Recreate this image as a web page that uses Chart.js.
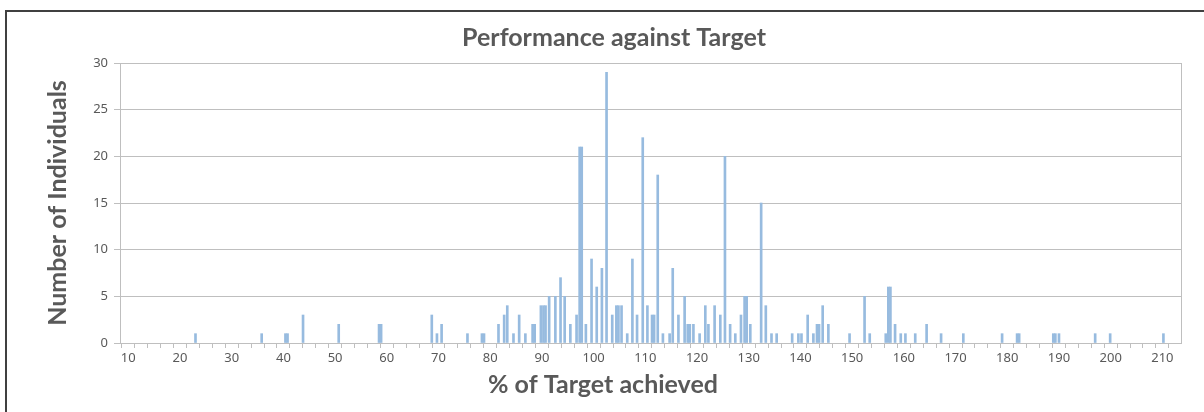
<!DOCTYPE html>
<html>
<head>
<meta charset="utf-8">
<script src="https://cdn.jsdelivr.net/npm/chart.js@4.4.0/dist/chart.umd.min.js"></script>
<style>
  html, body { margin:0; padding:0; background:#fff; }
  #wrap { position:relative; width:1204px; height:412px; overflow:hidden; }
  #frame { position:absolute; left:5px; top:10px; width:1220px; height:430px;
           border-left:2px solid #404040; border-top:2px solid #404040; }
  canvas { position:absolute; left:0; top:0; }
</style>
</head>
<body>
<div id="wrap">
  <div id="frame"></div>
  <canvas id="chart" width="1204" height="412"></canvas>
</div>
<script>
// % of target achieved (x) and number of individuals (y)
const pctAchieved = [
  23, 35.8, 40.4, 40.8, 43.8, 50.7, 58.5, 58.9,
  68.7, 69.7, 70.6, 75.6, 78.4, 78.8,
  81.6, 82.7, 83.3, 84.5, 85.6, 86.8, 88.2, 88.6, 89.8,
  90.3, 90.7, 91.4, 92.6, 93.6, 94.4, 95.5, 96.7, 97.3, 97.7, 98.5, 99.6,
  100.6, 101.6, 102.5, 103.6, 104.4, 104.8, 105.4, 106.5, 107.5, 108.4, 109.5,
  110.4, 111.3, 111.7, 112.4, 113.4, 114.7, 115.3, 116.4, 117.6, 118.2, 118.6, 119.3,
  120.5, 121.6, 122.2, 123.4, 124.5, 125.4, 126.4, 127.4, 128.5, 129.2, 129.6,
  130.3, 132.4, 133.3, 134.4, 135.4, 138.4, 139.6,
  140.2, 141.4, 142.5, 143.2, 143.6, 144.3, 145.4, 149.5,
  152.4, 153.4, 156.5, 157.0, 157.4, 158.3, 159.4,
  160.3, 162.2, 164.4, 167.2, 171.5, 179.0, 181.9, 182.3,
  188.9, 189.3, 190.0, 197.0, 199.9, 210.2
];
const individuals = [
  1, 1, 1, 1, 3, 2, 2, 2,
  3, 1, 2, 1, 1, 1,
  2, 3, 4, 1, 3, 1, 2, 2, 4,
  4, 4, 5, 5, 7, 5, 2, 3, 21, 21, 2, 9,
  6, 8, 29, 3, 4, 4, 4, 1, 9, 3, 22,
  4, 3, 3, 18, 1, 1, 8, 3, 5, 2, 2, 2,
  1, 4, 2, 4, 3, 20, 2, 1, 3, 5, 5,
  2, 15, 4, 1, 1, 1, 1,
  1, 3, 1, 2, 2, 4, 2, 1,
  5, 1, 1, 6, 6, 2, 1,
  1, 1, 2, 1, 1, 1, 1, 1,
  1, 1, 1, 1, 1, 1
];
const xLabelStep = 10;
const xMinorStep = 2.5;
const yTicks = [0, 5, 10, 15, 20, 25, 30];

const chartTitle = 'Performance against Target';
const xTitle = '% of Target achieved';
const yTitle = 'Number of Individuals';

const textGrey = '#595959';
const lineGrey = '#bfbfbf';

const points = pctAchieved.map((p, i) => ({ x: p, y: individuals[i] }));

// titles and plot-area right edge
const frameText = {
  id: 'frameText',
  afterDraw(chart) {
    const { ctx, chartArea } = chart;
    ctx.save();
    ctx.strokeStyle = lineGrey;
    ctx.lineWidth = 1;
    ctx.beginPath();
    ctx.moveTo(Math.round(chartArea.right) + 0.5, chartArea.top);
    ctx.lineTo(Math.round(chartArea.right) + 0.5, chartArea.bottom);
    ctx.stroke();
    ctx.fillStyle = textGrey;
    ctx.textAlign = 'center';
    ctx.textBaseline = 'middle';
    ctx.font = 'bold 25px Lato';
    ctx.fillText(chartTitle, 614, 38);
    ctx.fillText(xTitle, 603, 385);
    ctx.restore();
  }
};

new Chart(document.getElementById('chart'), {
  type: 'bar',
  data: {
    datasets: [{
      data: points,
      backgroundColor: '#97bbdf',
      borderWidth: 0,
      barThickness: 2
    }]
  },
  options: {
    responsive: false,
    animation: false,
    layout: { padding: { top: 63, right: 23, bottom: 0, left: 0 } },
    plugins: { legend: { display: false }, tooltip: { enabled: false } },
    scales: {
      x: {
        type: 'linear',
        min: 8.4,
        max: 213.6,
        offset: false,
        afterBuildTicks: axis => {
          const t = [];
          for (let v = xLabelStep; v <= 212.5; v += xMinorStep) t.push({ value: v });
          axis.ticks = t;
        },
        afterFit: s => { s.height = 69; },
        grid: { drawOnChartArea: false, drawTicks: true, tickLength: 5, color: lineGrey },
        border: { color: lineGrey },
        ticks: {
          autoSkip: false,
          maxRotation: 0,
          padding: 2,
          color: textGrey,
          font: { family: 'Noto Sans', size: 13 },
          callback: v => (v % xLabelStep === 0 ? v : '')
        }
      },
      y: {
        min: 0,
        max: 30,
        afterBuildTicks: axis => { axis.ticks = yTicks.map(v => ({ value: v })); },
        afterFit: s => { s.width = 120; },
        grid: { color: lineGrey, tickLength: 6 },
        border: { color: lineGrey },
        ticks: {
          padding: 6,
          color: textGrey,
          font: { family: 'Noto Sans', size: 13 }
        },
        title: {
          display: true,
          text: yTitle,
          color: textGrey,
          font: { family: 'Lato', size: 25, weight: 'bold' },
          padding: { top: 43, bottom: 0 }
        }
      }
    }
  },
  plugins: [frameText]
});
</script>
</body>
</html>
